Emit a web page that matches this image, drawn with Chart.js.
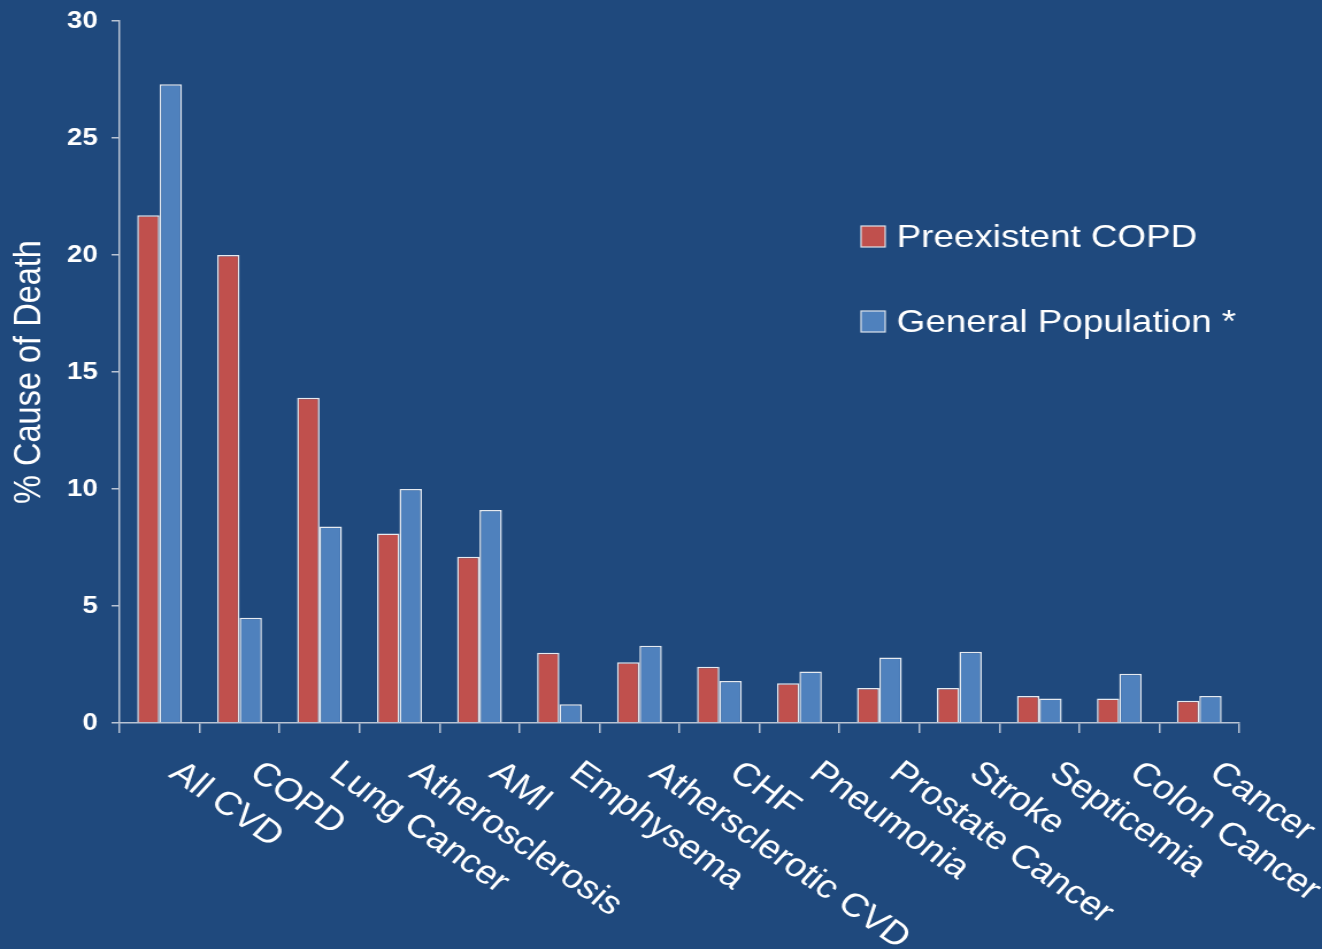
<!DOCTYPE html>
<html>
<head>
<meta charset="utf-8">
<script src="https://cdn.jsdelivr.net/npm/chart.js@4"></script>
<style>
  html, body { margin: 0; padding: 0; background: #1F497D; overflow: hidden; }
  /* the reference is stretched sideways, so draw narrow and widen the box */
  #wrap { width: 1150px; height: 949px; transform: scaleX(1.1496); transform-origin: 0 0; }
</style>
</head>
<body>
<div id="wrap"><canvas id="chart" width="1150" height="949"></canvas></div>
<script>
// Causes of death, %
const categories = ['All CVD', 'COPD', 'Lung Cancer', 'Atherosclerosis', 'AMI', 'Emphysema',
    'Athersclerotic CVD', 'CHF', 'Pneumonia', 'Prostate Cancer', 'Stroke', 'Septicemia',
    'Colon Cancer', 'Cancer'];
const copdValues = [21.7, 20.0, 13.9, 8.1, 7.1, 3.0, 2.6, 2.4, 1.7, 1.5, 1.5, 1.15, 1.05, 0.95];
const generalValues = [27.3, 4.5, 8.4, 10.0, 9.1, 0.8, 3.3, 1.8, 2.2, 2.8, 3.05, 1.05, 2.1, 1.15];
const seriesNames = ['Preexistent COPD', 'General Population *'];
const yTicks = [0, 5, 10, 15, 20, 25, 30];

const BG = '#1F497D';
const AXIS = '#B9C4D4';
const FONT = "'Liberation Sans', Arial, sans-serif";

// background + custom legend + slanted category labels
const decor = {
    id: 'decor',
    beforeDraw(chart) {
        const ctx = chart.ctx;
        ctx.save();
        ctx.fillStyle = BG;
        ctx.fillRect(0, 0, chart.width, chart.height);
        ctx.restore();
    },
    afterDraw(chart) {
        const ctx = chart.ctx;
        const xScale = chart.scales.x;

        // category labels, slanted down to the right
        ctx.save();
        ctx.fillStyle = '#FFFFFF';
        ctx.font = '33px ' + FONT;
        ctx.textAlign = 'left';
        ctx.textBaseline = 'top';
        chart.data.labels.forEach((label, i) => {
            const x = xScale.getPixelForValue(i);
            ctx.save();
            ctx.translate(x + 23, 756);
            ctx.rotate(38.5 * Math.PI / 180);
            ctx.fillText(label, 0, 0);
            ctx.restore();
        });
        ctx.restore();

        // legend
        ctx.save();
        ctx.font = '32px ' + FONT;
        ctx.textBaseline = 'alphabetic';
        chart.data.datasets.forEach((ds, i) => {
            const top = 226 + i * 85;
            ctx.fillStyle = ds.backgroundColor;
            ctx.fillRect(749, top, 21, 21);
            ctx.strokeStyle = '#DDE3EC';
            ctx.lineWidth = 1.2;
            ctx.strokeRect(749, top, 21, 21);
            ctx.fillStyle = '#FFFFFF';
            ctx.fillText(ds.label, 780, top + 21);
        });
        ctx.restore();
    }
};

new Chart(document.getElementById('chart'), {
    type: 'bar',
    data: {
        labels: categories,
        datasets: [{
            label: seriesNames[0],
            data: copdValues,
            backgroundColor: '#C0504D',
            borderColor: '#E6EAF0',
            borderWidth: 1.5
        }, {
            label: seriesNames[1],
            data: generalValues,
            backgroundColor: '#4F81BD',
            borderColor: '#E6EAF0',
            borderWidth: 1.5
        }]
    },
    options: {
        responsive: false,
        devicePixelRatio: 1,
        animation: false,
        categoryPercentage: 0.56,
        barPercentage: 1.0,
        layout: { padding: { top: 21, right: 72, left: 0, bottom: 0 } },
        plugins: {
            legend: { display: false },
            tooltip: { enabled: false }
        },
        scales: {
            x: {
                grid: {
                    drawOnChartArea: false,
                    drawTicks: true,
                    tickLength: 10,
                    color: AXIS,
                    lineWidth: 1.5,
                    offset: true
                },
                border: { color: AXIS, width: 1.5 },
                ticks: { display: false },
                afterFit(scale) { scale.height = 226; }
            },
            y: {
                min: 0,
                max: 30,
                afterBuildTicks(scale) { scale.ticks = yTicks.map(v => ({ value: v })); },
                grid: {
                    drawOnChartArea: false,
                    drawTicks: true,
                    tickLength: 7,
                    color: AXIS,
                    lineWidth: 1.5
                },
                border: { color: AXIS, width: 1.5 },
                ticks: {
                    color: '#FFFFFF',
                    padding: 12,
                    font: { family: FONT, size: 24, weight: 'bold' }
                },
                title: {
                    display: true,
                    text: '% Cause of Death',
                    color: '#FFFFFF',
                    padding: { top: 7, bottom: 0 },
                    font: { family: FONT, size: 32.5 }
                },
                afterFit(scale) {
                    scale.width = 104;
                    scale.paddingTop = 0;
                    scale.paddingBottom = 0;
                }
            }
        }
    },
    plugins: [decor]
});
</script>
</body>
</html>
